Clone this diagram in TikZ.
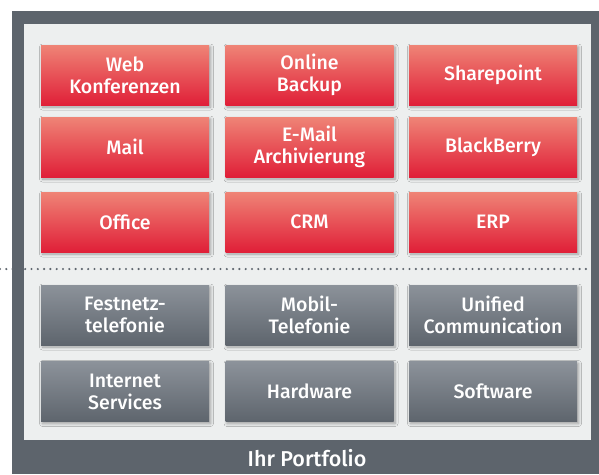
\documentclass[tikz,border=0pt]{standalone}
\usepackage{fontspec}
\setsansfont{Fira Sans}[UprightFont=* Medium, BoldFont=* SemiBold]
\usetikzlibrary{shadows.blur}
\definecolor{frame}{HTML}{5D646C}
\definecolor{panel}{HTML}{EDEFEF}
\definecolor{redtop}{HTML}{EF8476}
\definecolor{redbot}{HTML}{E01F38}
\definecolor{graytop}{HTML}{8C929A}
\definecolor{graybot}{HTML}{5E656D}
\definecolor{dotc}{HTML}{5F666E}
\tikzset{
  base/.style={minimum width=168pt, minimum height=60pt, inner sep=0pt, text=white,
    align=center, font=\sffamily\fontsize{19.5}{22}\selectfont,
    blur shadow={shadow xshift=1.5pt, shadow yshift=-2pt, shadow blur steps=6, shadow blur radius=3pt, shadow opacity=35}},
  redbox/.style={base, top color=redtop, bottom color=redbot},
  graybox/.style={base, top color=graytop, bottom color=graybot},
}
\begin{document}
\begin{tikzpicture}[x=1pt,y=-1pt]
\useasboundingbox (0,0) rectangle (599,474);
\fill[white] (0,0) rectangle (599,474);
\fill[frame] (12,11) rectangle (599,474);
\fill[panel] (24,24) rectangle (591,440);
\coordinate (dl) at (0,269);
\coordinate (dr) at (591,269);
\draw[dotc, line width=2.4pt, line cap=round, dash pattern=on 0pt off 6.3pt] (dl) -- (dr);
% red rows
\node[redbox] (web) at (125,75) {Web\\Konferenzen};
\node[redbox] (backup) at (309.5,75) {Online\\Backup};
\node[redbox] (sp) at (493,75) {Sharepoint};
\node[redbox] (mail) at (125,147) {Mail};
\node[redbox] (arch) at (309.5,147) {E-Mail\\Archivierung};
\node[redbox] (bb) at (493,147) {BlackBerry};
\node[redbox] (office) at (125,222) {Office};
\node[redbox] (crm) at (309.5,222) {CRM};
\node[redbox] (erp) at (493,222) {ERP};
% gray rows
\node[graybox] (fest) at (125,315) {Festnetz-\\telefonie};
\node[graybox] (mobil) at (309.5,315) {Mobil-\\Telefonie};
\node[graybox] (uc) at (493,315) {Unified\\Communication};
\node[graybox] (inet) at (125,391.5) {Internet\\Services};
\node[graybox] (hw) at (309.5,391.5) {Hardware};
\node[graybox] (sw) at (493,391.5) {Software};
\node[text=white, font=\sffamily\fontsize{21.5}{24}\selectfont] (port) at (307,458) {Ihr Portfolio};
\end{tikzpicture}
\end{document}
